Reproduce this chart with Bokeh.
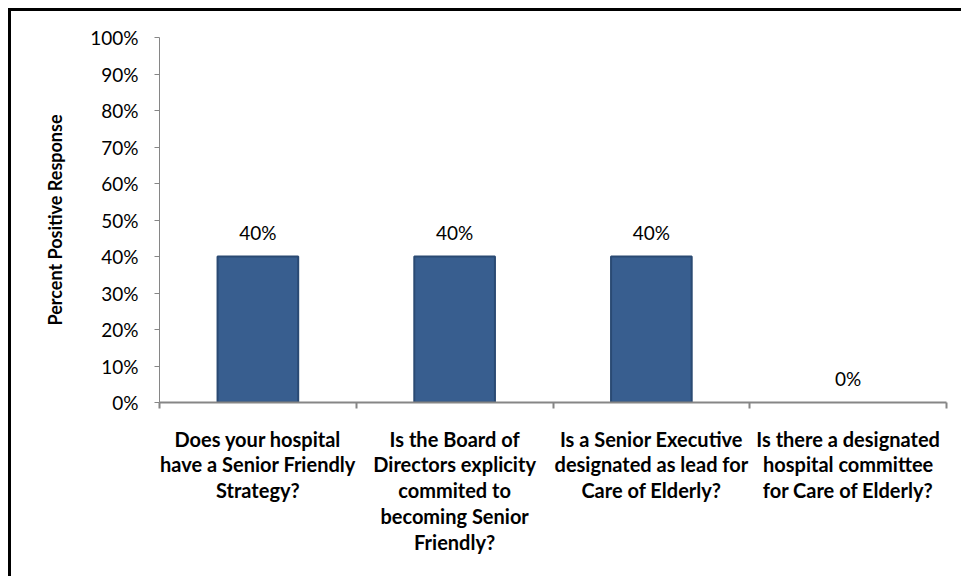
from bokeh.plotting import figure
from bokeh.models import FixedTicker, NumeralTickFormatter, Range1d, LinearAxis, ColumnDataSource
from bokeh.core.properties import value
from bokeh.embed import file_html
from bokeh.resources import INLINE

categories = [
    "Does your hospital\nhave a Senior Friendly\nStrategy?",
    "Is the Board of\nDirectors explicity\ncommited to\nbecoming Senior\nFriendly?",
    "Is a Senior Executive\ndesignated as lead for\nCare of Elderly?",
    "Is there a designated\nhospital committee\nfor Care of Elderly?",
]
values = [0.40, 0.40, 0.40, 0.00]
value_labels = ["40%", "40%", "40%", "0%"]
y_ticks = [i / 10 for i in range(11)]

FONT = "Lato"
AXIS_GRAY = "#868686"
BAR_FILL = "#385E8F"
BAR_LINE = "#2A4A73"

centers = [i + 0.5 for i in range(len(categories))]
bounds = [i for i in range(len(categories) + 1)]
line_colors = [BAR_LINE if v > 0 else None for v in values]

src = ColumnDataSource(dict(x=centers, top=values, lab=value_labels, lc=line_colors))

p = figure(width=953, height=568, output_backend="svg", toolbar_location=None,
           x_range=Range1d(0, len(categories)), y_range=Range1d(0, 1),
           min_border_left=148, min_border_right=18, min_border_top=26, min_border_bottom=177,
           x_axis_location=None, y_axis_location=None)
p.styles = {"margin-left": "8px", "margin-top": "8px",
            "border-top": "3px solid #000", "border-left": "3px solid #000"}
p.outline_line_color = None
p.xgrid.visible = False
p.ygrid.visible = False
p.background_fill_color = "white"
p.border_fill_color = "white"

p.vbar(x="x", top="top", width=0.41, bottom=0, source=src,
       fill_color=BAR_FILL, line_color="lc", line_width=2)
p.text(x="x", y="top", text="lab", source=src, y_offset=-24,
       text_align="center", text_baseline="middle",
       text_font=value(FONT), text_font_size="19px", text_color="#000000")

yax = LinearAxis(ticker=FixedTicker(ticks=y_ticks),
                 formatter=NumeralTickFormatter(format="0%"))
yax.axis_label = "Percent Positive Response"
yax.axis_label_text_font = FONT
yax.axis_label_text_font_style = "bold"
yax.axis_label_text_font_size = "18px"
yax.axis_label_text_color = "#000000"
yax.axis_label_standoff = 21
yax.major_label_text_font = FONT
yax.major_label_text_font_size = "19px"
yax.major_label_text_color = "#000000"
yax.major_label_standoff = 16
yax.axis_line_color = AXIS_GRAY
yax.major_tick_line_color = AXIS_GRAY
yax.major_tick_in = 0
yax.major_tick_out = 5
yax.minor_tick_line_color = None
p.add_layout(yax, "left")

xax = LinearAxis(ticker=FixedTicker(ticks=centers, minor_ticks=bounds))
xax.major_label_overrides = {c: lab for c, lab in zip(centers, categories)}
xax.major_label_text_font = FONT
xax.major_label_text_font_style = "bold"
xax.major_label_text_font_size = "20px"
xax.major_label_text_color = "#000000"
xax.major_label_text_line_height = 1.08
xax.major_label_standoff = 18
xax.axis_line_color = AXIS_GRAY
xax.axis_line_width = 2
xax.major_tick_line_color = None
xax.minor_tick_line_color = AXIS_GRAY
xax.minor_tick_line_width = 2
xax.minor_tick_in = 0
xax.minor_tick_out = 6
p.add_layout(xax, "below")

open("out.html", "w").write(file_html(p, INLINE))
